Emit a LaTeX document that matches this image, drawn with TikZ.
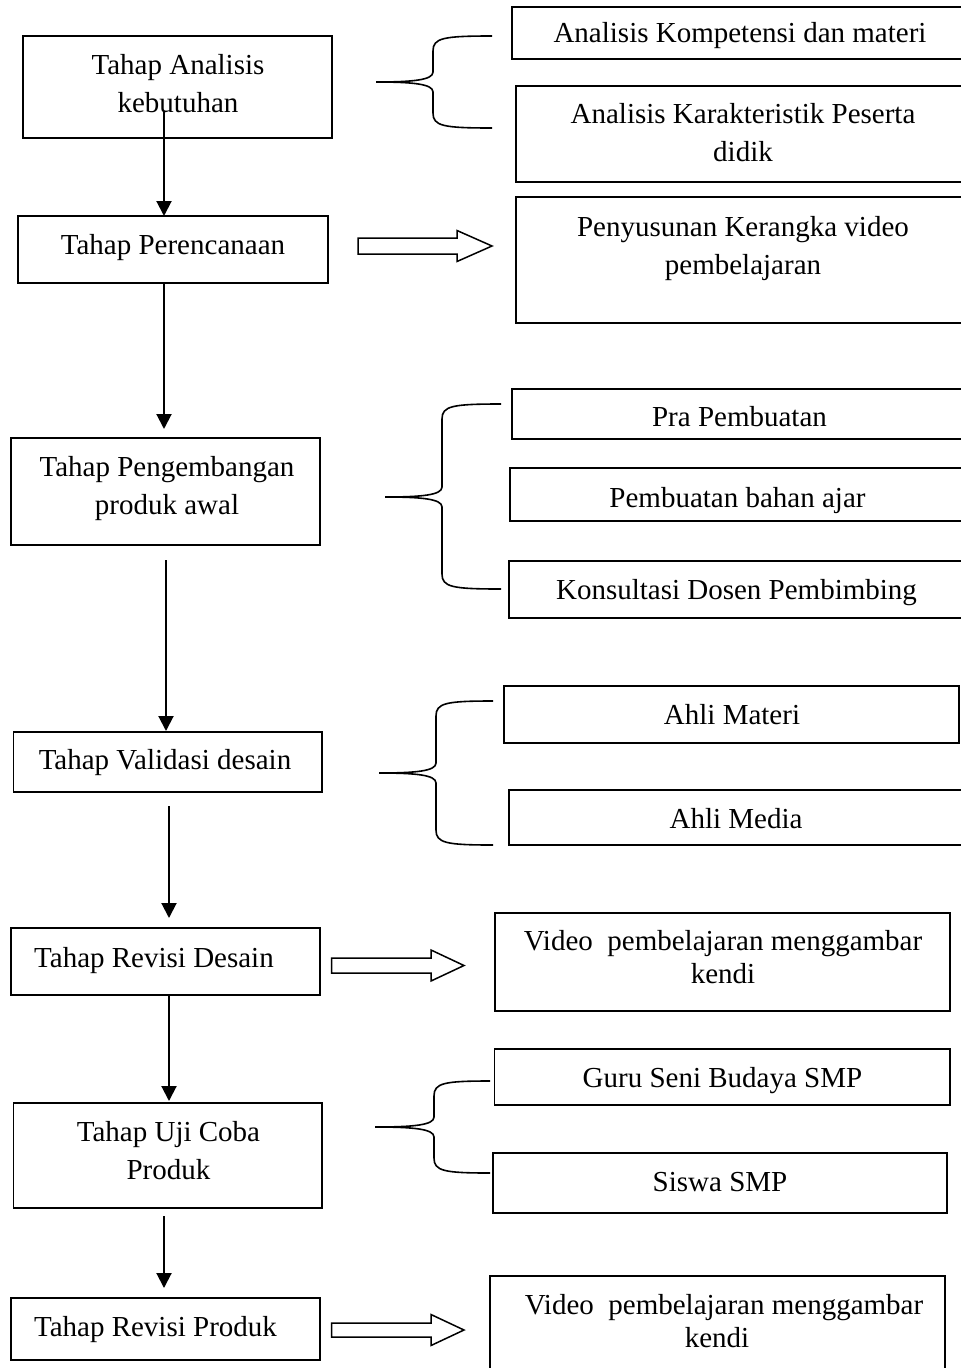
\documentclass[tikz,border=0pt]{standalone}
\usepackage{fontspec}
\setmainfont{Liberation Serif}
\usetikzlibrary{arrows.meta}
\tikzset{
  box/.style={draw, line width=1.6pt, inner sep=0pt, outer sep=0pt},
  txt/.style={font=\fontsize{29}{38}\selectfont, align=center, inner sep=0pt, yshift=-2pt},
  vtxt/.style={font=\fontsize{29}{33}\selectfont, align=center, inner sep=0pt, yshift=-2pt},
  arr/.style={line width=2pt, -{Triangle[length=15pt,width=15pt]}},
  brc/.style={line width=1.6pt},
  blk/.style={draw, line width=1.5pt, line join=miter}
}
\newcommand{\mybrace}[6]{% #1 end x, #2 top y, #3 spine x, #4 tip x, #5 mid y, #6 bottom y
  \draw[brc] (#1,#2) .. controls ({#3+10},#2) and (#3,{#2+2}) .. (#3,{#2+15})
    -- (#3,{#5-10}) .. controls (#3,{#5-2}) and ({#3-20},#5) .. (#4,#5)
    .. controls ({#3-20},#5) and (#3,{#5+2}) .. (#3,{#5+10})
    -- (#3,{#6-15}) .. controls (#3,{#6-2}) and ({#3+10},#6) .. (#1,#6);}
\newcommand{\blockarrow}[6]{% #1 start x, #2 head base x, #3 tip x, #4 shaft top, #5 shaft bottom, #6 head half
  \draw[blk] (#1,#4) -- (#2,#4) -- (#2,{(#4+#5)/2-#6}) -- (#3,{(#4+#5)/2})
    -- (#2,{(#4+#5)/2+#6}) -- (#2,#5) -- (#1,#5) -- cycle;}
\begin{document}
\begin{tikzpicture}[x=1pt,y=-1pt]
\useasboundingbox (0,0) rectangle (961,1368);
\clip (0,0) rectangle (961,1368);

% left column boxes
\node[box, minimum width=309pt, minimum height=102pt] (A) at (177.5,87) {};
\node[box, minimum width=310pt, minimum height=67pt] (B) at (173,249.5) {};
\node[box, minimum width=309pt, minimum height=107pt] (C) at (165.5,491.5) {};
\node[box, minimum width=308.5pt, minimum height=60pt] (D) at (167.75,762) {};
\node[box, minimum width=309pt, minimum height=67pt] (E) at (165.5,961.5) {};
\node[box, minimum width=308.5pt, minimum height=105pt] (F) at (167.75,1155.5) {};
\node[box, minimum width=309pt, minimum height=62pt] (G) at (165.5,1329) {};

\node[txt] (tA) at (178,84) {\strut Tahap Analisis\\\strut kebutuhan};
\node[txt] (tB) at (173,245) {\strut Tahap Perencanaan};
\node[txt] (tC) at (167,486) {\strut Tahap Pengembangan\\\strut produk awal};
\node[txt] (tD) at (165,760) {\strut Tahap Validasi desain};
\node[txt] (tE) at (154,958) {\strut Tahap Revisi Desain};
\node[txt] (tF) at (168.5,1151) {\strut Tahap Uji Coba\\\strut Produk};
\node[txt] (tG) at (155.5,1327) {\strut Tahap Revisi Produk};

% right column boxes
\node[box, minimum width=456pt, minimum height=52pt] (R1) at (740,33) {};
\node[box, minimum width=454pt, minimum height=96pt] (R2) at (743,134) {};
\node[box, minimum width=454pt, minimum height=126pt] (R3) at (743,260) {};
\node[box, minimum width=455pt, minimum height=50pt] (R4) at (739.5,414) {};
\node[box, minimum width=455pt, minimum height=53pt] (R5) at (737.5,494.5) {};
\node[box, minimum width=455pt, minimum height=57pt] (R6) at (736.5,589.5) {};
\node[box, minimum width=455pt, minimum height=57pt] (R7) at (731.5,714.5) {};
\node[box, minimum width=454pt, minimum height=55pt] (R8) at (736,817.5) {};
\node[box, minimum width=455pt, minimum height=98pt] (R9) at (722.5,962) {};
\node[box, minimum width=455.5pt, minimum height=56pt] (R10) at (722.25,1077) {};
\node[box, minimum width=454pt, minimum height=60pt] (R11) at (720,1183) {};
\node[box, minimum width=455pt, minimum height=100pt] (R12) at (717.5,1326) {};

\node[txt] (t1) at (740,33) {\strut Analisis Kompetensi dan materi};
\node[txt] (t2) at (743,133) {\strut Analisis Karakteristik Peserta\\\strut didik};
\node[txt] (t3) at (743,246) {\strut Penyusunan Kerangka video\\\strut pembelajaran};
\node[txt] (t4) at (739.5,417) {\strut Pra Pembuatan};
\node[txt] (t5) at (737.5,498) {\strut Pembuatan bahan ajar};
\node[txt] (t6) at (736.5,590) {\strut Konsultasi Dosen Pembimbing};
\node[txt] (t7) at (732,715) {\strut Ahli Materi};
\node[txt] (t8) at (736,819) {\strut Ahli Media};
\node[vtxt] (t9) at (723,958.5) {\strut Video\ \ pembelajaran menggambar\\\strut kendi};
\node[txt] (t10) at (722.5,1078) {\strut Guru Seni Budaya SMP};
\node[txt] (t11) at (720,1182) {\strut Siswa SMP};
\node[vtxt] (t12) at (724,1322.5) {\strut Video\ \ pembelajaran menggambar\\\strut \hspace*{-14pt}kendi};

% vertical arrows
\coordinate (p1) at (164,112);
\draw[arr] (p1) -- (p1 |- B.north);
\coordinate (p2) at (164,0);
\draw[arr, shorten >=9pt] (p2 |- B.south) -- (p2 |- C.north);
\coordinate (p3) at (166,0);
\draw[arr, shorten <=15pt, shorten >=1pt] (p3 |- C.south) -- (p3 |- D.north);
\coordinate (p4) at (169,0);
\draw[arr, shorten <=14pt, shorten >=10pt] (p4 |- D.south) -- (p4 |- E.north);
\coordinate (p5) at (169,0);
\draw[arr, shorten >=2pt] (p5 |- E.south) -- (p5 |- F.north);
\coordinate (p6) at (164,0);
\draw[arr, shorten <=8pt, shorten >=10pt] (p6 |- F.south) -- (p6 |- G.north);

% braces
\mybrace{492}{36}{433}{376}{82}{128}
\mybrace{501}{404}{442}{385}{497}{589}
\mybrace{493}{701}{436}{379}{773}{845}
\mybrace{490}{1081}{434}{375}{1127}{1173}

% hollow block arrows
\blockarrow{358}{457}{492}{238}{254}{15.5}
\blockarrow{331.5}{431}{464}{958}{973}{15.5}
\blockarrow{331.5}{431}{464}{1323}{1337}{15.5}
\end{tikzpicture}
\end{document}
